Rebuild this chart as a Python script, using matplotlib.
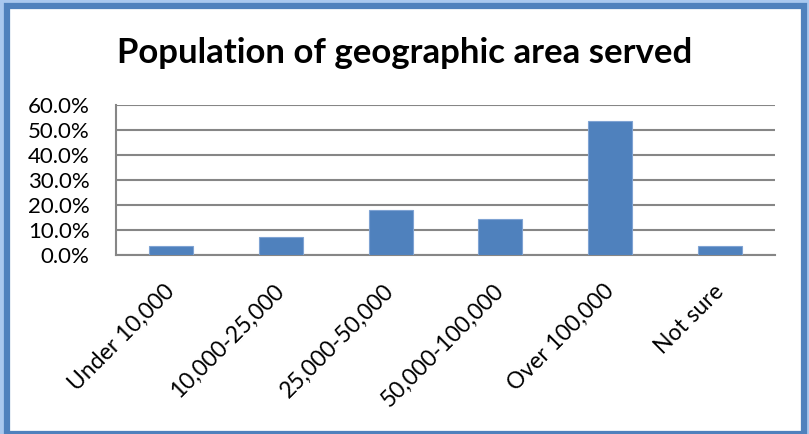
import matplotlib
matplotlib.use("Agg")
import matplotlib.pyplot as plt
from matplotlib.patches import Rectangle
from matplotlib.ticker import FuncFormatter, MultipleLocator

categories = ["Under 10,000", "10,000-25,000", "25,000-50,000",
              "50,000-100,000", "Over 100,000", "Not sure"]
values = [3.5, 7.1, 17.8, 14.3, 53.6, 3.6]
title = "Population of geographic area served"

plt.rcParams['font.family'] = ['Lato', 'DejaVu Sans']

W, H = 809, 434
fig = plt.figure(figsize=(W / 100, H / 100), dpi=100)
fig.patch.set_facecolor('#a9c8ef')

# chart frame
fig.add_artist(Rectangle((7.5 / W, 0), (803.5 - 7.5) / W, (H - 5.5) / H,
                         transform=fig.transFigure, facecolor='white',
                         edgecolor='#4f81bd', linewidth=4.5, zorder=0))

ax = fig.add_axes([116 / W, (H - 254.7) / H, (775 - 116) / W, (254.7 - 105) / H])
x = range(len(categories))
ax.bar(x, values, width=0.4, color='#4f81bd', edgecolor='#7fa3d3', linewidth=0.8, zorder=3)
ax.set_xlim(-0.5, len(categories) - 0.5)
ax.set_ylim(0, 60)
ax.yaxis.set_major_locator(MultipleLocator(10))
ax.yaxis.set_major_formatter(FuncFormatter(lambda v, p: f"{v:.1f}%"))
ax.grid(axis='y', color='#868686', linewidth=1.5, zorder=0)
ax.set_axisbelow(True)
for s in ['top', 'right']:
    ax.spines[s].set_visible(False)
ax.spines['left'].set_color('#868686')
ax.spines['bottom'].set_color('#868686')
ax.spines['left'].set_linewidth(1.5)
ax.spines['bottom'].set_linewidth(1.5)
ax.tick_params(axis='both', length=0, labelsize=16, colors='black')
ax.tick_params(axis='y', pad=19)
ax.set_xticks(list(x))
ax.set_xticklabels(categories, rotation=45, ha='right', va='center',
                   rotation_mode='anchor', fontsize=16.5)
ax.tick_params(axis='x', pad=24)

fig.text(405 / W, 1 - 53 / H, title, ha='center', va='center',
         fontsize=25, fontweight='bold')

fig.savefig('out.png', dpi=100, facecolor=fig.get_facecolor())
